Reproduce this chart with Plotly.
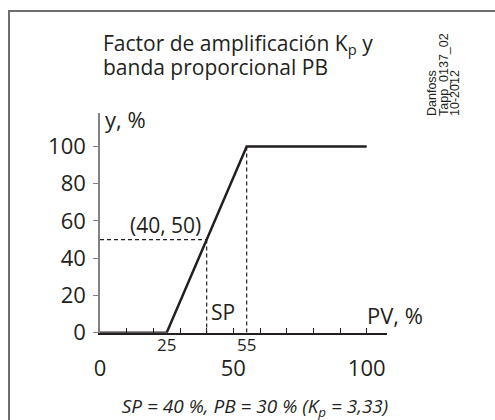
import plotly.graph_objects as go

# Output characteristic of a proportional controller
pv = [0, 25, 55, 100]
y_out = [0, 0, 100, 100]

# Set point and its output, end of the proportional band
sp_pv = 40
sp_y = 50
pb_end = 55

y_ticks = [0, 20, 40, 60, 80, 100]
x_major = [0, 50, 100]
x_marked = [25, 55]

INK = "#231f20"
GREY = "#808285"
FONT = "Open Sans"

W, H = 495, 420

fig = go.Figure()

dash = dict(color=INK, width=1.2, dash="4px,3px")
fig.add_trace(go.Scatter(x=[0, sp_pv], y=[sp_y, sp_y], mode="lines", line=dash, hoverinfo="skip"))
fig.add_trace(go.Scatter(x=[sp_pv, sp_pv], y=[sp_y, 0], mode="lines", line=dash, hoverinfo="skip"))
fig.add_trace(go.Scatter(x=[pb_end, pb_end], y=[100, 0], mode="lines", line=dash, hoverinfo="skip"))
fig.add_trace(go.Scatter(x=pv, y=y_out, mode="lines",
                         line=dict(color=INK, width=2.5), hoverinfo="skip"))
# carrier for the secondary row of x labels
fig.add_trace(go.Scatter(x=x_marked, y=[0, 0], mode="none", xaxis="x2", hoverinfo="skip"))

x_dom = [100 / W, 386.7 / W]
y_dom = [(H - 332.7) / H, (H - 113) / H]

fig.update_layout(
    width=W, height=H, autosize=False,
    margin=dict(l=0, r=0, t=0, b=0, pad=0),
    paper_bgcolor="white", plot_bgcolor="white",
    showlegend=False,
    font=dict(family=FONT, color=INK),
    # footnote with the controller settings
    title=dict(
        text="<i>SP = 40 %, PB = 30 % (K<sub>p</sub> = 3,33)</i>",
        xref="container", yref="container",
        x=255 / W, xanchor="center",
        y=(H - 406) / H, yanchor="middle",
        font=dict(size=19, family=FONT, color=INK),
        automargin=False,
    ),
    xaxis=dict(
        domain=x_dom, range=[0, 107.5], fixedrange=True, automargin=False,
        showline=True, linecolor=INK, linewidth=1.5,
        showgrid=False, zeroline=False,
        ticks="inside", ticklen=5, tickwidth=1, tickcolor=INK,
        tickvals=x_major, ticktext=[str(v) for v in x_major],
        tickfont=dict(size=22, family=FONT, color=INK),
        ticklabelstandoff=15,
        minor=dict(dtick=10, tick0=0, ticks="inside", ticklen=5,
                   tickwidth=1, tickcolor=INK, showgrid=False),
    ),
    xaxis2=dict(
        overlaying="x", anchor="y", side="bottom", range=[0, 107.5],
        showline=False, showgrid=False, zeroline=False, ticks="",
        tickvals=x_marked, ticktext=[str(v) for v in x_marked],
        tickfont=dict(size=17, family=FONT, color=INK),
        ticklabelstandoff=0, fixedrange=True, automargin=False,
    ),
    yaxis=dict(
        domain=y_dom, range=[0, 118], fixedrange=True, automargin=False,
        showline=True, linecolor=GREY, linewidth=1.5,
        showgrid=False, zeroline=False,
        ticks="outside", ticklen=5, tickwidth=1, tickcolor=GREY,
        tickvals=y_ticks, ticktext=[str(v) for v in y_ticks],
        tickfont=dict(size=22, family=FONT, color=INK),
        ticklabelstandoff=3,
    ),
)

# Frame around the diagram
fig.add_shape(type="rect", xref="paper", yref="paper",
              x0=9 / W, x1=1.05, y0=-0.05, y1=(H - 11) / H,
              line=dict(color="#6d6e71", width=2), fillcolor="rgba(0,0,0,0)")

def px_x(p):
    return p / W

def px_y(p):
    return (H - p) / H

# Title
fig.add_annotation(xref="paper", yref="paper", x=px_x(101), y=px_y(44),
                   xanchor="left", yanchor="middle", showarrow=False,
                   text="Factor de amplificación K<sub>p</sub> y",
                   font=dict(size=21, family=FONT, color=INK))
fig.add_annotation(xref="paper", yref="paper", x=px_x(101), y=px_y(67),
                   xanchor="left", yanchor="middle", showarrow=False,
                   text="banda proporcional PB",
                   font=dict(size=21, family=FONT, color=INK))

# Drawing reference, vertical
for txt, cx in [("Danfoss", 432), ("Tapp_0137_02", 443.5), ("10-2012", 455)]:
    fig.add_annotation(xref="paper", yref="paper", x=px_x(cx), y=px_y(118),
                       xanchor="center", yanchor="bottom", showarrow=False,
                       textangle=-90, text=txt,
                       font=dict(size=12.5, family="Liberation Sans", color=INK))

# Axis names and point labels
fig.add_annotation(x=1.0, y=115, xanchor="left", yanchor="middle", showarrow=False,
                   text="y, %", font=dict(size=22, family=FONT, color=INK))
fig.add_annotation(x=99.5, y=9.5, xanchor="left", yanchor="middle", showarrow=False,
                   text="PV, %", font=dict(size=22, family=FONT, color=INK))
fig.add_annotation(x=24.4, y=58, xanchor="center", yanchor="middle", showarrow=False,
                   text=f"({sp_pv}, {sp_y})", font=dict(size=21, family=FONT, color=INK))
fig.add_annotation(x=46.1, y=11, xanchor="center", yanchor="middle", showarrow=False,
                   text="SP", font=dict(size=21, family=FONT, color=INK))

fig.write_html("out.html")
